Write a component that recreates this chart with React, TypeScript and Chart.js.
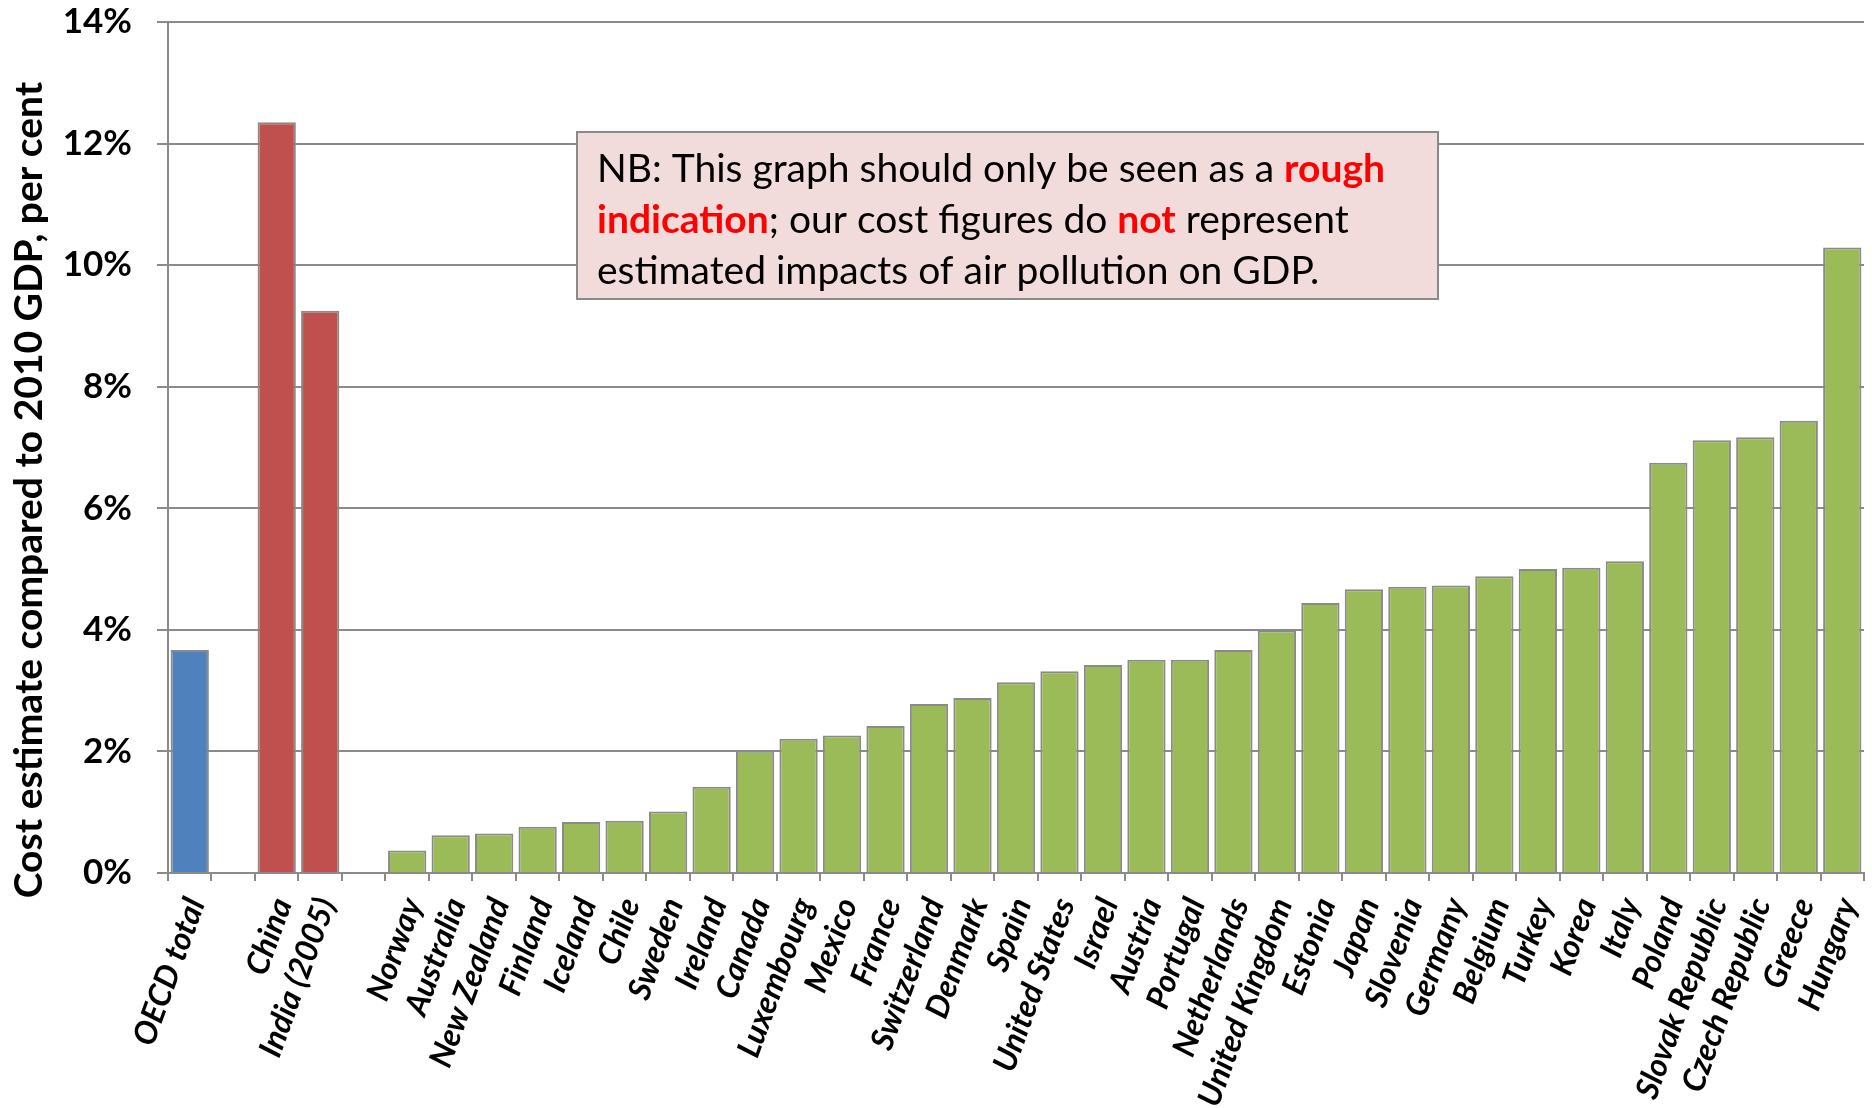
import React, { useEffect, useRef } from "react";
import { Chart, registerables } from "chart.js";

Chart.register(...registerables);

// Cost of air pollution, share of 2010 GDP (%)
const oecdLabel = ["OECD total"];
const oecdValue = [3.67];

const partnerLabels = ["China", "India (2005)"];
const partnerValues = [12.35, 9.25];

const memberLabels = [
  "Norway", "Australia", "New Zealand", "Finland", "Iceland", "Chile", "Sweden",
  "Ireland", "Canada", "Luxembourg", "Mexico", "France", "Switzerland", "Denmark",
  "Spain", "United States", "Israel", "Austria", "Portugal", "Netherlands",
  "United Kingdom", "Estonia", "Japan", "Slovenia", "Germany", "Belgium", "Turkey",
  "Korea", "Italy", "Poland", "Slovak Republic", "Czech Republic", "Greece", "Hungary",
];
const memberValues = [
  0.37, 0.62, 0.65, 0.76, 0.84, 0.86, 1.01,
  1.42, 2.01, 2.21, 2.26, 2.42, 2.78, 2.88,
  3.14, 3.32, 3.42, 3.51, 3.51, 3.67,
  3.99, 4.44, 4.67, 4.71, 4.73, 4.88, 5.0,
  5.02, 5.13, 6.75, 7.12, 7.17, 7.44, 10.29,
];

const yTicks = [0, 2, 4, 6, 8, 10, 12, 14];
const yTitle = "Cost estimate compared to 2010 GDP, per cent";

// Note text, split into coloured runs per line
const noteLines: [string, boolean][][] = [
  [["NB: This graph should only be seen as a ", false], ["rough", true]],
  [["indication", true], ["; our cost figures do ", false], ["not", true], [" represent", false]],
  [["estimated impacts of air pollution on GDP.", false]],
];

const BLUE = "#4F81BD";
const RED = "#C0504D";
const GREEN = "#9BBB59";
const GREY = "#8A8A8A";

const labels = [...oecdLabel, "", ...partnerLabels, "", ...memberLabels];
const values = [...oecdValue, null, ...partnerValues, null, ...memberValues];
const colors = [
  ...oecdLabel.map(() => BLUE),
  "rgba(0,0,0,0)",
  ...partnerLabels.map(() => RED),
  "rgba(0,0,0,0)",
  ...memberLabels.map(() => GREEN),
];

// Vertical axis title, drawn rotated to the left of the tick labels
const axisTitlePlugin = {
  id: "axisTitle",
  afterDraw(chart: any) {
    const ctx = chart.ctx;
    ctx.save();
    ctx.translate(29, 490);
    ctx.rotate(-Math.PI / 2);
    ctx.font = "bold 39px Lato";
    ctx.fillStyle = "#000";
    ctx.textAlign = "center";
    ctx.textBaseline = "middle";
    ctx.fillText(yTitle, 0, 0);
    ctx.restore();
  },
};

const notePlugin = {
  id: "noteBox",
  afterDraw(chart: any) {
    const ctx = chart.ctx;
    const x0 = 577, y0 = 132, w = 861, h = 167;
    ctx.save();
    ctx.fillStyle = "#F2DCDB";
    ctx.fillRect(x0, y0, w, h);
    ctx.strokeStyle = GREY;
    ctx.lineWidth = 2;
    ctx.strokeRect(x0, y0, w, h);
    ctx.textBaseline = "alphabetic";
    ctx.textAlign = "left";
    const baselines = [182, 233, 284];
    noteLines.forEach((runs, i) => {
      let x = x0 + 20;
      runs.forEach(([text, strong]) => {
        ctx.font = `${strong ? "bold " : ""}39px Lato`;
        ctx.fillStyle = strong ? "#FF0000" : "#000000";
        ctx.fillText(text, x, baselines[i]);
        x += ctx.measureText(text).width;
      });
    });
    ctx.restore();
  },
};

export default function App() {
  const ref = useRef<HTMLCanvasElement>(null);

  useEffect(() => {
    if (!ref.current) return;
    const chart = new Chart(ref.current, {
      type: "bar",
      data: {
        labels,
        datasets: [
          {
            data: values,
            backgroundColor: colors,
            borderColor: GREY,
            borderWidth: 2,
            barPercentage: 0.88,
            categoryPercentage: 1,
          },
        ],
      },
      options: {
        animation: false,
        responsive: true,
        maintainAspectRatio: false,
        layout: { padding: { top: 22, right: 8, bottom: 0, left: 0 } },
        plugins: {
          legend: { display: false },
          tooltip: { enabled: false },
        },
        scales: {
          x: {
            afterFit: (s: any) => {
              s.height = 235;
              s.paddingLeft = 0;
              s.paddingRight = 0;
            },
            grid: {
              offset: true,
              drawOnChartArea: false,
              drawTicks: true,
              tickLength: 8,
              color: GREY,
              lineWidth: 2,
            },
            border: { display: true, color: GREY, width: 2 },
            ticks: {
              autoSkip: false,
              minRotation: 70,
              maxRotation: 70,
              padding: 12,
              labelOffset: 6,
              color: "#000",
              font: { family: "Lato", weight: "bold", style: "italic", size: 32 },
            },
          },
          y: {
            min: 0,
            max: 14,
            afterFit: (s: any) => {
              s.width = 168;
              s.paddingTop = 0;
              s.paddingBottom = 0;
            },
            afterBuildTicks: (s: any) => {
              s.ticks = yTicks.map((v) => ({ value: v }));
            },
            grid: {
              color: GREY,
              lineWidth: 2,
              tickLength: 11,
            },
            border: { display: true, color: GREY, width: 2 },
            ticks: {
              padding: 25,
              color: "#000",
              font: { family: "Lato", weight: "bold", size: 35 },
              callback: (v: any) => `${v}%`,
            },
          },
        },
      },
      plugins: [axisTitlePlugin, notePlugin],
    });
    return () => chart.destroy();
  }, []);

  return (
    <div style={{ position: "fixed", left: 0, top: 0, width: 1872, height: 1108, background: "#fff" }}>
      <canvas ref={ref} />
    </div>
  );
}
